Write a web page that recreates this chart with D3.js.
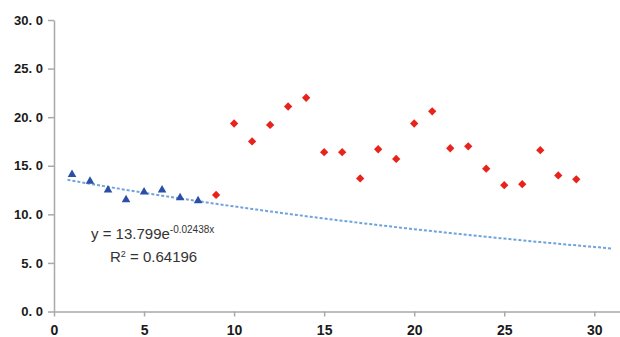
<!DOCTYPE html>
<html>
<head>
<meta charset="utf-8">
<script src="https://cdn.jsdelivr.net/npm/d3@7"></script>
<style>
  body { margin: 0; background: #fff; }
  svg { display: block; }
</style>
</head>
<body>
<div id="chart"></div>
<script>
// values
var blueX = [1, 2, 3, 4, 5, 6, 7, 8],
    blueY = [14.1, 13.4, 12.5, 11.5, 12.3, 12.5, 11.7, 11.4];

var redX = [9, 10, 11, 12, 13, 14, 15, 16, 17, 18, 19, 20, 21, 22, 23, 24, 25, 26, 27, 28, 29],
    redY = [12.0, 19.35, 17.5, 19.2, 21.1, 22.0, 16.4, 16.4, 13.7, 16.7, 15.7, 19.35,
            20.6, 16.8, 17.0, 14.7, 13.0, 13.1, 16.6, 14.0, 13.6];

var xTicks = [0, 5, 10, 15, 20, 25, 30],
    yTicks = [0, 5, 10, 15, 20, 25, 30];

// exponential trend fitted to the blue points
var fitA = 13.799, fitB = -0.02438, fitR2 = 0.64196;
var trendRange = [0.75, 31.05];

var width = 620, height = 337;

var svg = d3.select("#chart")
    .append("svg")
    .attr("width", width)
    .attr("height", height);

var x = d3.scaleLinear()
    .domain([0, 31.5])
    .range([54, 54 + 31.5 * 18.01]);

var y = d3.scaleLinear()
    .domain([0, 30])
    .range([311.5, 20]);

var axisColor = "#a9a9a9";

// y axis
var yAxis = svg.append("g")
    .attr("transform", "translate(" + x(0) + ",0)")
    .call(d3.axisLeft(y)
        .tickValues(yTicks)
        .tickSize(6)
        .tickSizeOuter(0)
        .tickPadding(5)
        .tickFormat(function (d) { return d.toFixed(1).replace(".", ". "); }));

// x axis
var xAxis = svg.append("g")
    .attr("transform", "translate(0," + y(0) + ")")
    .call(d3.axisBottom(x)
        .tickValues(xTicks)
        .tickSize(5)
        .tickSizeOuter(0)
        .tickPadding(9)
        .tickFormat(d3.format("d")));

[yAxis, xAxis].forEach(function (g) {
    g.select(".domain").attr("stroke", axisColor).attr("stroke-width", 1.5);
    g.selectAll(".tick line").attr("stroke", axisColor).attr("stroke-width", 1.5);
    g.selectAll(".tick text")
        .attr("fill", "#1a1a1a")
        .style("font-family", "'Liberation Sans', Arial, sans-serif")
        .style("font-weight", "bold")
        .style("font-size", "14px");
});

yAxis.selectAll(".tick text").style("font-size", "13px");

// trend line
var trendData = d3.range(trendRange[0], trendRange[1] + 0.001, 0.25).map(function (t) {
    return [t, fitA * Math.exp(fitB * t)];
});

var line = d3.line()
    .x(function (d) { return x(d[0]); })
    .y(function (d) { return y(d[1]); });

svg.append("path")
    .datum(trendData)
    .attr("d", line)
    .attr("fill", "none")
    .attr("stroke", "#6fa3dc")
    .attr("stroke-width", 2)
    .attr("stroke-dasharray", "3,2");

// blue triangles
svg.append("g")
    .selectAll("path")
    .data(blueX)
    .enter().append("path")
    .attr("d", d3.symbol().type(d3.symbolTriangle).size(32))
    .attr("transform", function (d, i) {
        return "translate(" + x(d) + "," + y(blueY[i]) + ")";
    })
    .attr("fill", "#2b4fa6");

// red diamonds
svg.append("g")
    .selectAll("path")
    .data(redX)
    .enter().append("path")
    .attr("d", d3.symbol().type(d3.symbolDiamond2).size(44))
    .attr("transform", function (d, i) {
        return "translate(" + x(d) + "," + y(redY[i]) + ")";
    })
    .attr("fill", "#e8231c");

// fit equation
var eq = svg.append("g")
    .style("font-family", "'Liberation Sans', Arial, sans-serif")
    .attr("fill", "#333");

var t1 = eq.append("text")
    .attr("x", 91)
    .attr("y", 239)
    .style("font-size", "15px");
t1.append("tspan").text("y = " + fitA + "e");
t1.append("tspan")
    .attr("dy", -6)
    .style("font-size", "10px")
    .text(fitB + "x");

var t2 = eq.append("text")
    .attr("x", 110)
    .attr("y", 262)
    .style("font-size", "15px");
t2.append("tspan").text("R");
t2.append("tspan")
    .attr("dy", -5)
    .style("font-size", "9px")
    .text("2");
t2.append("tspan")
    .attr("dy", 5)
    .text(" = " + fitR2);
</script>
</body>
</html>
